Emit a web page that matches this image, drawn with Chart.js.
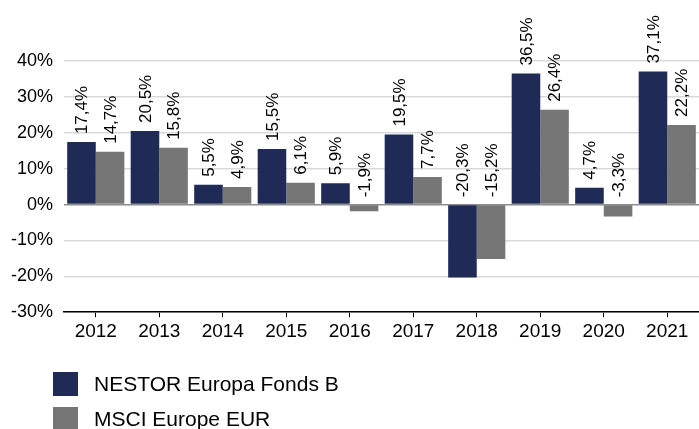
<!DOCTYPE html>
<html>
<head>
<meta charset="utf-8">
<script src="https://cdn.jsdelivr.net/npm/chart.js@4/dist/chart.umd.min.js"></script>
<style>
  html, body { margin: 0; padding: 0; background: #fff; }
  #wrap { width: 699px; height: 429px; }
</style>
</head>
<body>
<div id="wrap"><canvas id="myChart" width="699" height="429"></canvas></div>
<script>
// Jahre und Wertentwicklung in %
const jahre = ['2012', '2013', '2014', '2015', '2016', '2017', '2018', '2019', '2020', '2021'];
const fondsWerte = [17.4, 20.5, 5.5, 15.5, 5.9, 19.5, -20.3, 36.5, 4.7, 37.1];
const indexWerte = [14.7, 15.8, 4.9, 6.1, -1.9, 7.7, -15.2, 26.4, -3.3, 22.2];
const serienNamen = ['NESTOR Europa Fonds B', 'MSCI Europe EUR'];
const farben = ['#1f2a56', '#767676'];

const schrift = "'Liberation Sans', Arial, sans-serif";

// Beschriftung der Balken, senkrecht
const balkenLabels = {
    id: 'balkenLabels',
    afterDatasetsDraw(chart) {
        const ctx = chart.ctx;
        ctx.save();
        ctx.font = '17px ' + schrift;
        ctx.fillStyle = '#000';
        ctx.textAlign = 'left';
        ctx.textBaseline = 'middle';
        chart.data.datasets.forEach((ds, i) => {
            chart.getDatasetMeta(i).data.forEach((bar, j) => {
                const v = ds.data[j];
                const txt = v.toFixed(1).replace('.', ',') + '%';
                const y = Math.min(bar.y, bar.base) - 8;
                ctx.save();
                ctx.translate(bar.x + 1, y);
                ctx.rotate(-Math.PI / 2);
                ctx.fillText(txt, 0, 0);
                ctx.restore();
            });
        });
        ctx.restore();
    }
};

// Legende unten links, untereinander
const legendeUnten = {
    id: 'legendeUnten',
    afterDraw(chart) {
        const ctx = chart.ctx;
        ctx.save();
        ctx.font = '21px ' + schrift;
        ctx.textBaseline = 'middle';
        ctx.textAlign = 'left';
        chart.data.datasets.forEach((ds, i) => {
            const yMitte = 384 + i * 35;
            ctx.fillStyle = ds.backgroundColor;
            ctx.fillRect(53, yMitte - 12, 25, 24);
            ctx.fillStyle = '#000';
            ctx.fillText(ds.label, 94, yMitte + 1);
        });
        ctx.restore();
    }
};

const myChart = new Chart(document.getElementById('myChart').getContext('2d'), {
    type: 'bar',
    data: {
        labels: jahre,
        datasets: [{
            label: serienNamen[0],
            data: fondsWerte,
            backgroundColor: farben[0],
            barPercentage: 1,
            categoryPercentage: 0.9
        }, {
            label: serienNamen[1],
            data: indexWerte,
            backgroundColor: farben[1],
            barPercentage: 1,
            categoryPercentage: 0.9
        }]
    },
    options: {
        responsive: false,
        animation: false,
        layout: {
            padding: { top: 61, left: 0, right: 0, bottom: 83 }
        },
        plugins: {
            legend: { display: false },
            tooltip: { enabled: false }
        },
        scales: {
            x: {
                grid: {
                    drawOnChartArea: false,
                    drawTicks: true,
                    tickLength: 5,
                    offset: false,
                    color: '#000'
                },
                border: { color: '#000', width: 1.5 },
                ticks: {
                    color: '#000',
                    padding: 3,
                    font: { size: 19, family: schrift }
                }
            },
            y: {
                min: -30,
                max: 40,
                ticks: {
                    stepSize: 10,
                    color: '#000',
                    padding: 11,
                    font: { size: 18, family: schrift },
                    callback: v => v + '%'
                },
                grid: {
                    drawTicks: false,
                    color: ctx => ctx.tick && ctx.tick.value === 0 ? '#8c8c8c' : '#d9d9d9',
                    lineWidth: 1.5
                },
                border: { display: false }
            }
        }
    },
    plugins: [balkenLabels, legendeUnten]
});
</script>
</body>
</html>
